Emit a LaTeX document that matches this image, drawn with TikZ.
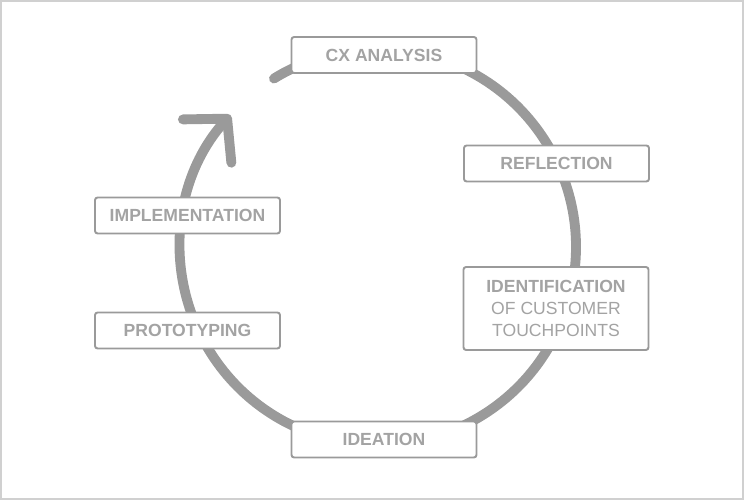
\documentclass[tikz,border=0pt]{standalone}
\usepackage{fontspec}
\setmainfont{Liberation Sans}
\usepackage{tikz}
\usetikzlibrary{calc,arrows.meta}
\definecolor{cyclegray}{HTML}{9A9A9A}
\definecolor{labelgray}{HTML}{A3A3A3}
\definecolor{framegray}{HTML}{D0D0D0}

\begin{document}
\begin{tikzpicture}[
    stage/.style={draw=cyclegray,line width=1.1pt,rounded corners=1.5pt,fill=white,
      minimum width=3.7cm,minimum height=0.72cm,inner sep=0pt,
      font=\fontsize{10}{12.5}\selectfont\bfseries,text=labelgray,align=center}]
                      \useasboundingbox(0,0)rectangle(14.88,10);
                      \draw[framegray,line width=1pt](0.02,0.02)rectangle(14.86,9.98);
                      % the cycle
                      \coordinate(c)at(7.56,5.06);
                      \draw[cyclegray,line width=5.6pt,line cap=round,-{Straight Barb[length=6mm,width=13mm,round]}]
                        ($(c)+(121.7:3.96)$) arc[start angle=121.7,end angle=-221.8,radius=3.96];
                      % stages
                      \node[stage](cx)at(7.68,8.9){CX ANALYSIS};
                      \node[stage](refl)at(11.13,6.73){REFLECTION};
                      \node[stage,minimum height=1.66cm](ident)at(11.12,3.83){IDENTIFICATION\\{\mdseries OF CUSTOMER}\\{\mdseries TOUCHPOINTS}};
                      \node[stage](idea)at(7.68,1.21){IDEATION};
                      \node[stage](proto)at(3.75,3.39){PROTOTYPING};
                      \node[stage](impl)at(3.75,5.69){IMPLEMENTATION};
                  \end{tikzpicture}
\end{document}
